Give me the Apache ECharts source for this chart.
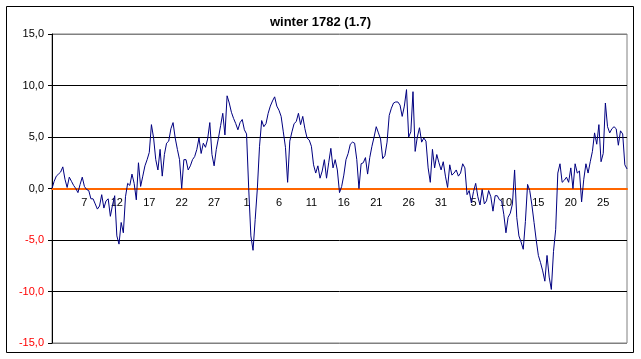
<!DOCTYPE html>
<html>
<head>
<meta charset="utf-8">
<script src="https://cdn.jsdelivr.net/npm/echarts@6/dist/echarts.min.js"></script>
<style>html,body{margin:0;padding:0;background:#fff}#c{width:641px;height:359px}</style>
</head>
<body>
<div id="c"></div>
<script>
// three readings per day, 2 December 1781 .. 28 February 1782
var titleText = 'winter 1782 (1.7)';
var tickLabels = ['2','7','12','17','22','27','1','6','11','16','21','26','31','5','10','15','20','25'];
var yTicks = [-15, -10, -5, 0, 5, 10, 15];
var temps = [
  0.0, 0.7, 1.2, 1.4, 1.6, 2.1, 0.9, 0.1, 1.1, 0.7,
  0.3, 0.0, -0.4, 0.4, 1.1, 0.2, -0.1, -0.2, -1.0, -1.0,
  -1.5, -2.0, -1.7, -0.6, -1.9, -1.2, -1.0, -2.7, -1.6, -0.7,
  -4.6, -5.4, -3.3, -4.3, -0.8, 0.5, 0.3, 1.4, 0.5, -1.1,
  2.5, 0.2, 1.2, 2.2, 2.8, 3.5, 6.2, 4.9, 2.8, 1.8,
  3.8, 1.2, 3.3, 4.4, 4.6, 5.8, 6.4, 4.9, 3.8, 2.8,
  0.0, 2.8, 2.8, 1.8, 2.2, 2.8, 3.1, 3.8, 4.9, 3.4,
  4.4, 4.0, 4.8, 6.4, 3.3, 2.2, 3.8, 4.9, 6.1, 7.3,
  5.2, 9.0, 8.3, 7.4, 6.8, 6.3, 5.7, 6.4, 6.7, 5.7,
  5.3, 0.0, -4.6, -6.0, -3.0, 0.0, 4.1, 6.6, 6.0, 6.3,
  7.3, 8.0, 8.5, 8.9, 8.0, 7.6, 7.0, 5.5, 4.0, 0.6,
  4.6, 5.5, 6.3, 6.5, 7.3, 6.2, 7.0, 5.8, 4.9, 4.7,
  4.1, 2.3, 1.5, 2.2, 1.0, 1.7, 2.8, 1.0, 2.5, 3.9,
  2.0, 2.8, 1.8, -0.4, 0.2, 1.3, 2.8, 3.4, 4.3, 4.5,
  4.4, 2.8, 0.0, 2.4, 2.5, 3.0, 1.4, 3.0, 4.1, 5.0,
  6.0, 5.4, 4.8, 2.9, 3.2, 4.5, 7.1, 7.8, 8.3, 8.4,
  8.4, 8.1, 7.0, 8.0, 9.6, 5.0, 5.5, 9.4, 3.6, 5.0,
  5.9, 4.5, 4.9, 4.6, 2.0, 0.6, 3.8, 2.0, 3.3, 2.5,
  1.8, 2.6, 1.2, 0.1, 2.3, 1.3, 1.5, 1.8, 1.2, 1.5,
  2.4, 2.0, -0.6, -0.2, -1.4, -0.3, 0.5, -0.8, -1.6, -0.1,
  -1.5, -1.2, -0.2, -0.8, -2.2, -0.7, -0.7, -1.1, -1.2, -2.5,
  -4.3, -2.8, -2.4, -1.5, 1.8, -2.8, -4.6, -5.2, -5.9, -3.2,
  0.4, -0.2, -1.6, -3.3, -5.0, -6.5, -7.2, -8.0, -9.0, -6.5,
  -8.6, -9.8, -6.1, -4.0, 1.5, 2.4, 0.6, 0.8, 1.1, 0.6,
  2.0, 0.0, 2.4, 1.5, 1.7, -1.3, 0.9, 2.4, 1.5, 2.6,
  3.6, 5.4, 4.3, 6.2, 2.6, 3.4, 8.3, 6.0, 5.4, 5.8,
  6.0, 5.8, 4.2, 5.6, 5.3, 2.3, 1.9
];
var categories = temps.map(function (v, i) { return String(i); });

var gridTop = 34, gridBottom = 16, height = 359;
var plotH = height - gridTop - gridBottom;
var zeroOffset = -plotH * (0 - yTicks[0]) / (yTicks[yTicks.length - 1] - yTicks[0]);

var chart = echarts.init(document.getElementById('c'), null, {renderer: 'canvas'});
var font = 'Liberation Sans, Arial, sans-serif';
chart.setOption({
  animation: false,
  backgroundColor: '#ffffff',
  title: {
    text: titleText,
    left: 'center',
    top: 11,
    textStyle: {fontFamily: font, fontSize: 13, fontWeight: 'bold', color: '#000'}
  },
  graphic: [{
    type: 'rect',
    shape: {x: 6.5, y: 6.5, width: 627, height: 346},
    style: {fill: 'none', stroke: '#000', lineWidth: 1},
    silent: true
  }],
  grid: {
    left: 52, right: 14, top: gridTop, bottom: gridBottom,
    show: true, borderColor: '#808080', borderWidth: 1, backgroundColor: 'transparent'
  },
  xAxis: {
    type: 'category',
    data: categories,
    boundaryGap: false,
    position: 'bottom',
    offset: zeroOffset,
    axisLine: {show: true, onZero: false, lineStyle: {color: '#FF6600', width: 2}},
    axisTick: {show: false},
    splitLine: {show: false},
    axisLabel: {
      interval: 14,
      margin: 9,
      fontFamily: font, fontSize: 11, color: '#000',
      formatter: function (val, idx) {
        if (idx === 0 || idx % 15 !== 0) return '';
        return tickLabels[idx / 15] || '';
      }
    }
  },
  yAxis: {
    type: 'value',
    min: yTicks[0], max: yTicks[yTicks.length - 1], interval: 5,
    axisLine: {show: true, lineStyle: {color: '#000', width: 1}},
    axisTick: {show: true, length: 4, lineStyle: {color: '#000'}},
    splitLine: {show: true, lineStyle: {color: ['#808080', '#000', '#000', '#000', '#000', '#000', '#808080'], width: 1}},
    axisLabel: {
      margin: 8,
      fontFamily: font, fontSize: 11,
      color: function (v) { return Number(v) < 0 ? '#FF0000' : '#000000'; },
      formatter: function (v) { return v.toFixed(1).replace('.', ','); }
    }
  },
  series: [{
    type: 'line',
    data: temps,
    showSymbol: false,
    symbol: 'none',
    lineStyle: {color: '#000080', width: 1},
    z: 5
  }]
});
</script>
</body>
</html>
